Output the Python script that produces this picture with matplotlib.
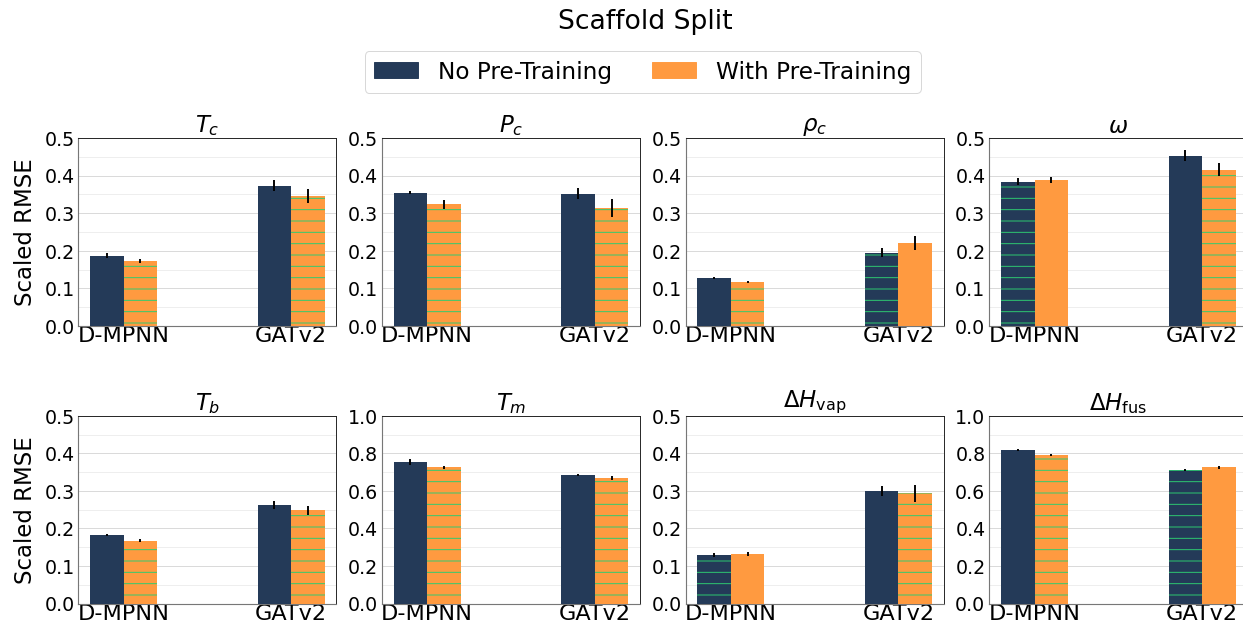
import numpy as np
import matplotlib
matplotlib.use("Agg")
import matplotlib.pyplot as plt
from matplotlib.ticker import MultipleLocator
from matplotlib.patches import Patch

# property names and y-limits
props = ['$T_c$', '$P_c$', r'$\rho_c$', r'$\omega$',
         '$T_b$', '$T_m$', r'$\Delta H_{\mathrm{vap}}$', r'$\Delta H_{\mathrm{fus}}$']
ymax = [0.5, 0.5, 0.5, 0.5, 0.5, 1.0, 0.5, 1.0]
models = ['D-MPNN', 'GATv2']

# scaled RMSE, [D-MPNN, GATv2] for each property
no_pt = [[0.187, 0.373], [0.354, 0.352], [0.128, 0.194], [0.384, 0.453],
         [0.183, 0.262], [0.754, 0.684], [0.129, 0.300], [0.817, 0.711]]
no_pt_err = [[0.006, 0.015], [0.004, 0.014], [0.003, 0.012], [0.010, 0.014],
             [0.003, 0.010], [0.014, 0.006], [0.006, 0.014], [0.004, 0.004]]
with_pt = [[0.173, 0.346], [0.324, 0.314], [0.116, 0.220], [0.389, 0.416],
           [0.168, 0.248], [0.727, 0.668], [0.132, 0.294], [0.791, 0.727]]
with_pt_err = [[0.005, 0.019], [0.012, 0.023], [0.003, 0.018], [0.008, 0.017],
               [0.003, 0.013], [0.008, 0.010], [0.006, 0.023], [0.006, 0.008]]

navy = '#243a58'
orange = '#ff9a40'
green = '#2ecc71'

dpi = 68.5
fig = plt.figure(figsize=(1243 / dpi, 627.3 / dpi), dpi=dpi)

left0, step, w = 0.063, 0.2443, 0.2076
bottoms = [0.480, 0.0372]
h = 0.2996
x = np.arange(len(models))
bw = 0.2
ekw = dict(ecolor='black', elinewidth=2)

for i, name in enumerate(props):
    row, col = divmod(i, 4)
    ax = fig.add_axes([left0 + col * step, bottoms[row], w, h])
    a = np.array(no_pt[i])
    b = np.array(with_pt[i])
    for j in range(len(models)):
        # the better (lower) bar of each pair is hatched
        ha = '-' if a[j] < b[j] else None
        hb = '-' if b[j] <= a[j] else None
        ax.bar(x[j] - bw / 2, a[j], bw, color=navy, hatch=ha, edgecolor=green,
               linewidth=0, yerr=no_pt_err[i][j], error_kw=ekw, zorder=3)
        ax.bar(x[j] + bw / 2, b[j], bw, color=orange, hatch=hb, edgecolor=green,
               linewidth=0, yerr=with_pt_err[i][j], error_kw=ekw, zorder=3)
    ax.set_ylim(0, ymax[i])
    major = ymax[i] / 5
    ax.yaxis.set_major_locator(MultipleLocator(major))
    ax.yaxis.set_minor_locator(MultipleLocator(major / 2))
    ax.grid(axis='y', which='major', color='#d9d9d9', lw=1, zorder=0)
    ax.grid(axis='y', which='minor', color='#eeeeee', lw=1, zorder=0)
    ax.set_xticks(x)
    ax.set_xticklabels(models, fontsize=23.5)
    ax.tick_params(axis='y', labelsize=20, length=0, pad=4)
    ax.tick_params(axis='x', length=0, pad=0)
    ax.tick_params(which='minor', length=0)
    ax.set_title(name, fontsize=24, pad=3)
    for side, s in ax.spines.items():
        s.set_color('#777777' if side in ('left', 'bottom') else '#222222')
        s.set_linewidth(1.2 if side in ('left', 'bottom') else 1)
    if col == 0:
        ax.set_ylabel('Scaled RMSE', fontsize=24, labelpad=8)

handles = [Patch(color=navy, label='No Pre-Training'),
           Patch(color=orange, label='With Pre-Training')]
fig.legend(handles=handles, loc='center', bbox_to_anchor=(0.517, 0.885), ncol=2,
           fontsize=24.5, frameon=True, columnspacing=1.7, handlelength=1.9,
           handletextpad=0.85, borderpad=0.4)
fig.suptitle('Scaffold Split', fontsize=28, x=0.519, y=0.985, va='top')

fig.savefig('out.png', dpi=dpi)
